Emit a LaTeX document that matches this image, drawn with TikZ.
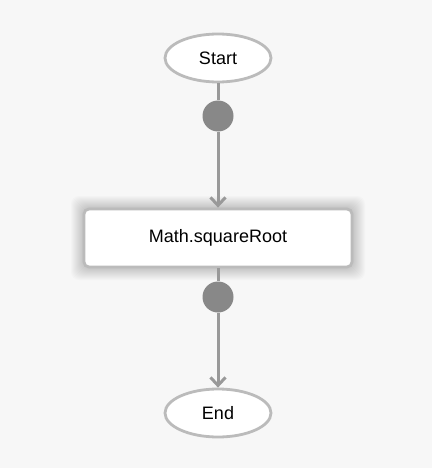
\documentclass[tikz,border=0pt]{standalone}
\usepackage{fontspec}
\setmainfont{Liberation Sans}
\usetikzlibrary{arrows.meta,shapes.geometric}
\definecolor{bg}{HTML}{F7F7F7}
\definecolor{edge}{HTML}{999999}
\definecolor{oval}{HTML}{BBBBBB}
\definecolor{dot}{HTML}{888888}
\begin{document}
\begin{tikzpicture}[x=1pt,y=-1pt,
  term/.style={ellipse,draw=oval,line width=2.8pt,fill=white,minimum width=106pt,minimum height=48pt,inner sep=0pt,font=\fontsize{18}{20}\selectfont},
  proc/.style={rectangle,rounded corners=5pt,draw=oval,line width=2.8pt,fill=white,minimum width=268pt,minimum height=58pt,inner sep=0pt,font=\fontsize{18}{20}\selectfont},
  conn/.style={draw=edge,line width=3pt},
  arr/.style={conn,-{Straight Barb[length=8pt,width=15pt,line width=3pt]}},
  knob/.style={circle,fill=dot,minimum size=31pt,inner sep=0pt}]
\fill[bg] (0,0) rectangle (432,468);
\useasboundingbox (0,0) rectangle (432,468);
% soft glow behind the process box
\foreach \d in {12,11,...,1}{
  \fill[black,opacity=0.016,rounded corners=8pt] (83-\d,208-\d) rectangle (353+\d,268+\d);
}
\node[term] (start) at (218,58) {Start};
\node[proc] (sq) at (218,238) {Math.squareRoot};
\node[term] (end) at (218,413) {End};
\node[knob] (k1) at (218,116) {};
\node[knob] (k2) at (218,297) {};
\draw[conn] (start) -- (k1);
\draw[arr] (k1) -- (sq);
\draw[conn] (sq) -- (k2);
\draw[arr] (k2) -- (end);
\end{tikzpicture}
\end{document}
